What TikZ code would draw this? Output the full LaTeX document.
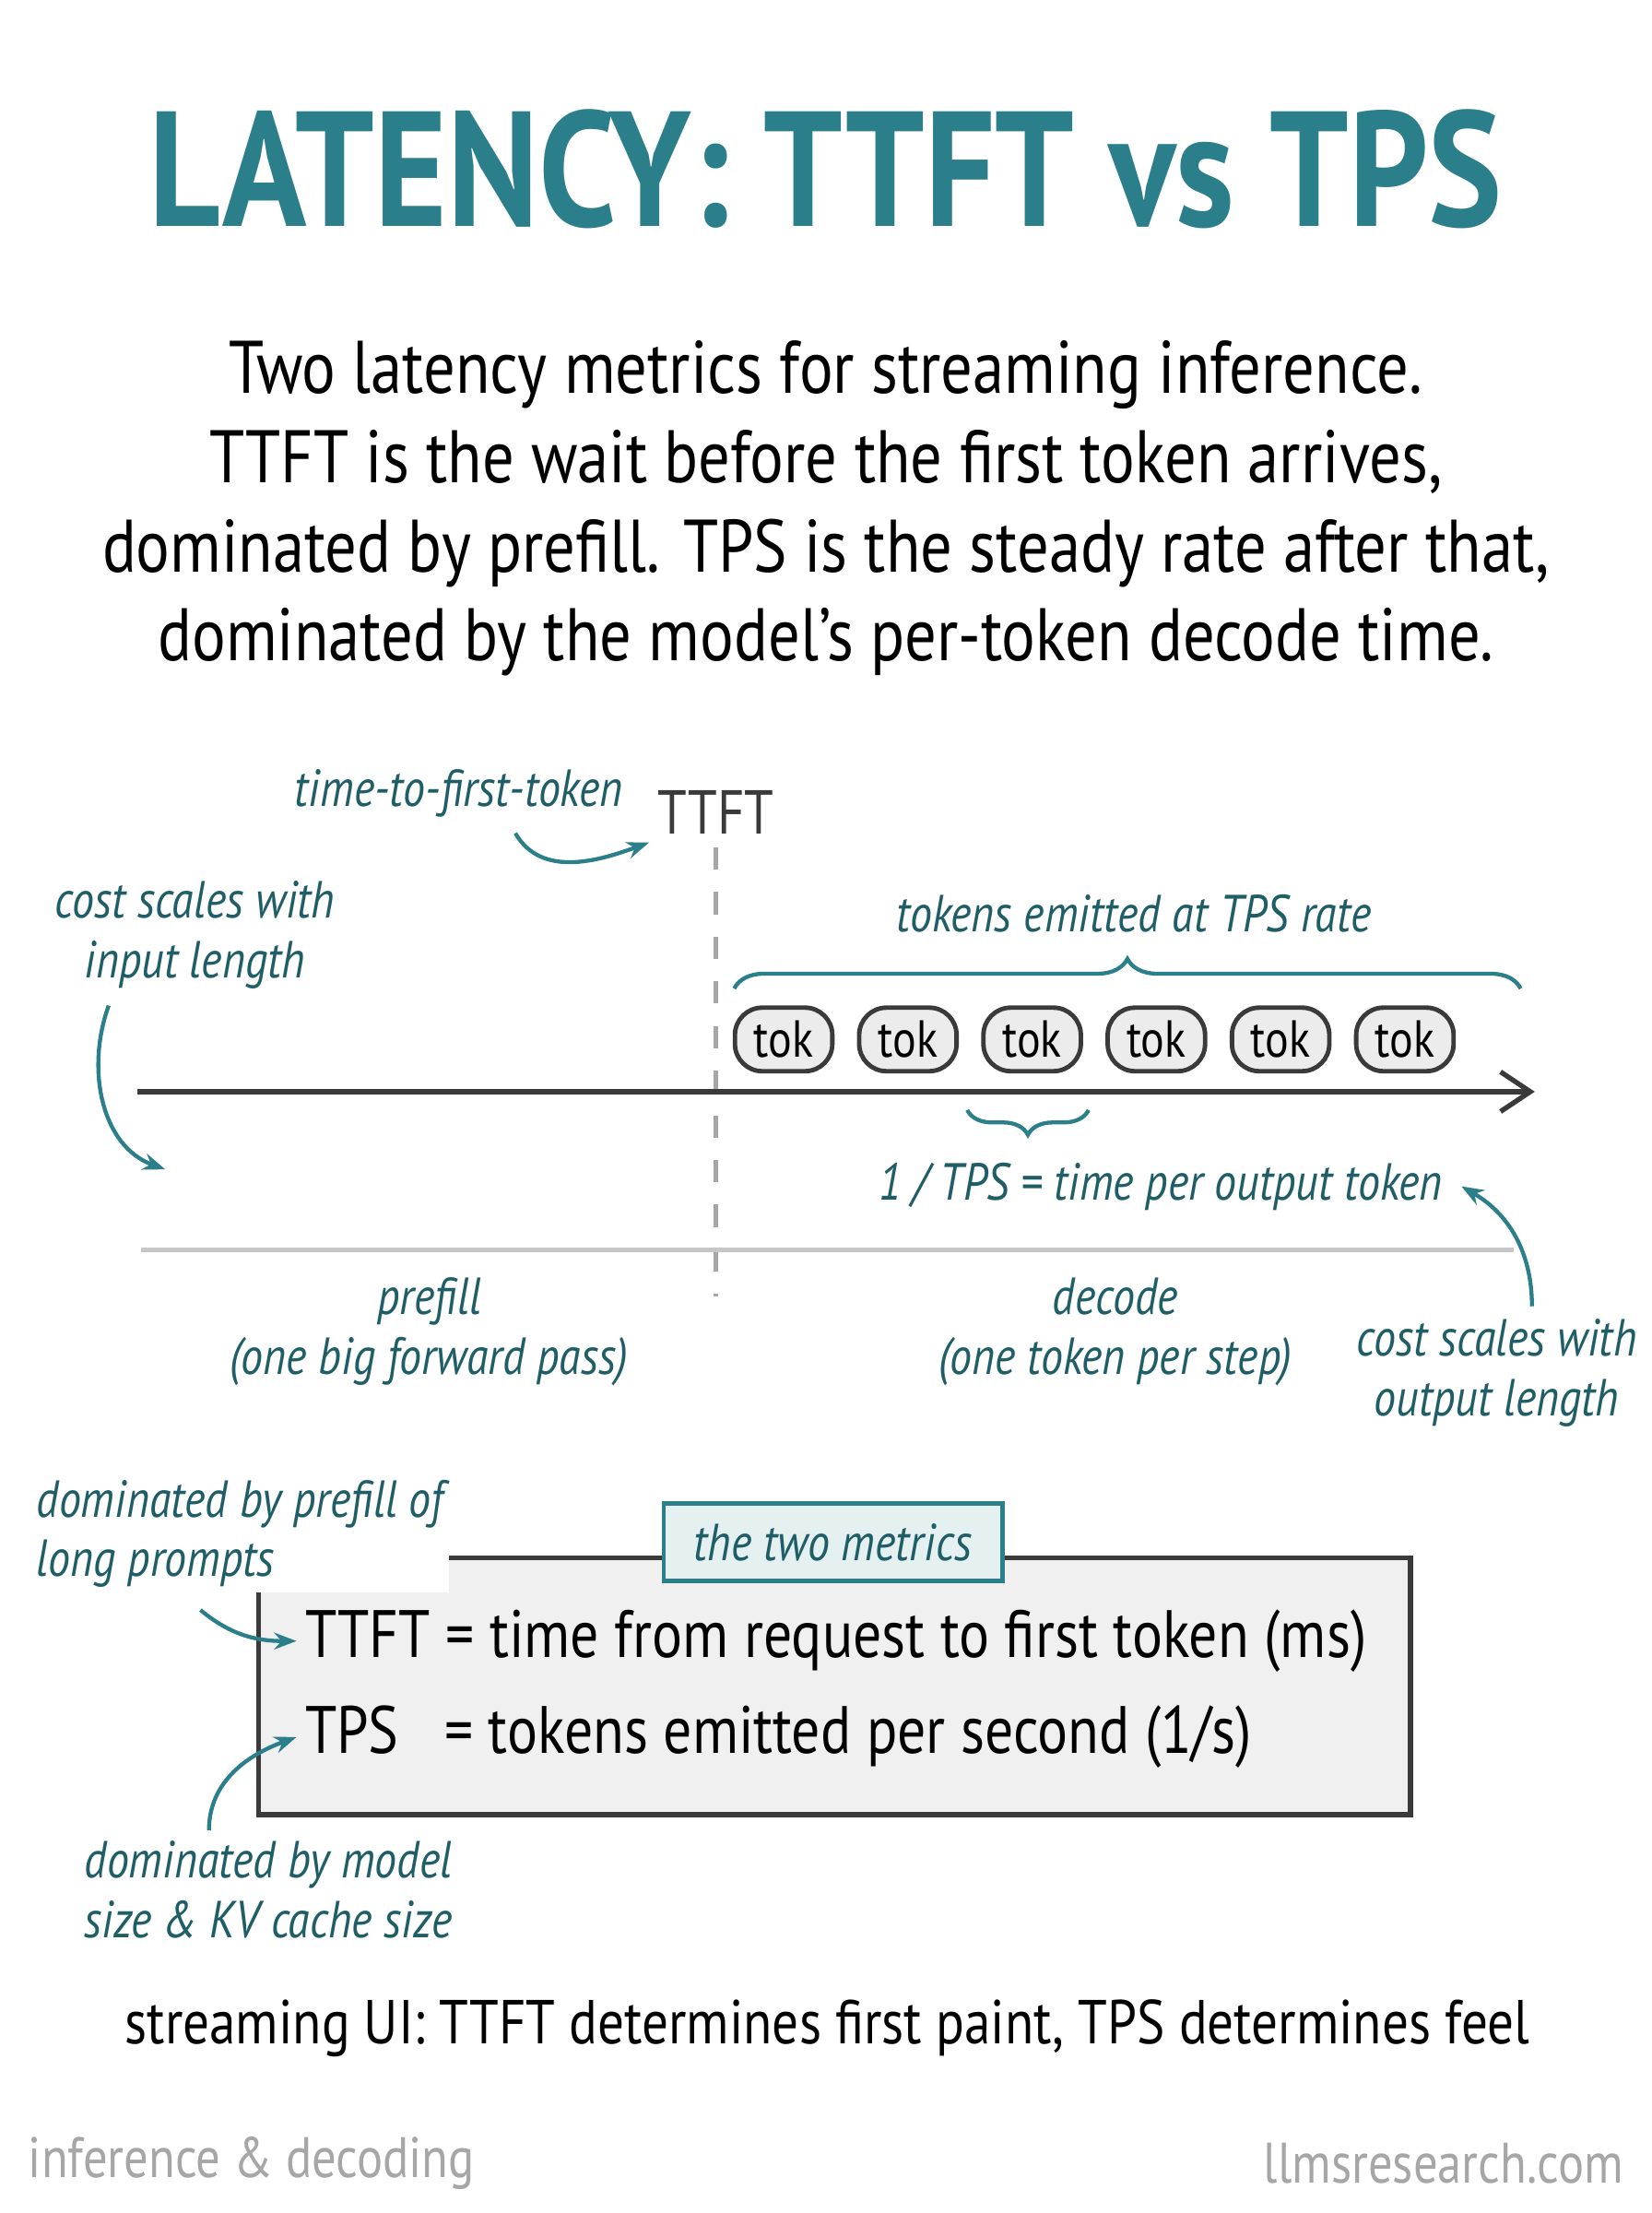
\documentclass[tikz,border=0pt]{standalone}
\usepackage{fontspec}
\setmainfont{PT Sans}[FakeStretch=0.85]
\usetikzlibrary{positioning,decorations.pathreplacing,arrows.meta}
\definecolor{teal}{HTML}{2A7F8A}
\definecolor{darkteal}{HTML}{1F5E66}
\definecolor{ink}{HTML}{3A3A3A}
\tikzset{
  note/.style={text=darkteal, font=\itshape\fontsize{21}{24}\selectfont, align=center},
  curv/.style={teal, line width=1.6pt, -{Stealth[length=9pt]}},
  tok/.style={draw=ink, fill=gray!15, line width=1.8pt, rounded corners=11pt, minimum width=1.38cm, minimum height=0.9cm, font=\fontsize{21}{22}\selectfont},
  brace/.style={teal, line width=1.6pt, decorate}
}
\begin{document}
\begin{tikzpicture}[x=0.02cm, y=-0.02cm]
    \useasboundingbox (0,0) rectangle (1170,1567);

    % Title and intro
    \node[text=teal, font=\bfseries\fontsize{66}{70}\selectfont] (title) at (585,120) {LATENCY: TTFT vs TPS};
    \node[font=\fontsize{30}{36}\selectfont, align=center] (intro) at (585,360)
        {Two latency metrics for streaming inference.\\
         TTFT is the wait before the first token arrives,\\
         dominated by prefill. TPS is the steady rate after that,\\
         dominated by the model’s per-token decode time.};

    % Boundary between prefill and decode
    \node[note] (ttftlong) at (325,562) {time-to-first-token};
    \node[text=ink, font=\fontsize{25}{26}\selectfont] (ttft) at (507,575) {TTFT};
    \coordinate (cuttop) at (507,600);
    \coordinate (cutbot) at (507,918);
    \draw[gray!70, line width=1.6pt, dash pattern=on 9pt off 9pt] (cuttop) -- (cutbot);
    \draw[curv] (365,590) to[out=-60, in=200] (ttft.south west);

    % Time axis and tokens
    \coordinate (tstart) at (97,773);
    \coordinate (tend) at (1087,773);
    \draw[ink, line width=2pt, -{Straight Barb[length=12pt, width=16pt]}] (tstart) -- (tend);
    \foreach \i/\x in {1/555,2/643,3/731,4/819,5/907,6/995}
        \node[tok] (tok\i) at (\x,736) {tok};

    \node[note] (rate) at (803,647) {tokens emitted at TPS rate};
    \draw[brace, decoration={brace, amplitude=12pt}] (520,700) -- (1077,700);
    \draw[brace, decoration={brace, amplitude=10pt, mirror}] (685,786) -- (771,786);
    \node[note] (pertok) at (822,840) {1 / TPS = time per output token};

    % Phase floor
    \coordinate (fstart) at (100,885);
    \coordinate (fend) at (1072,885);
    \draw[gray!45, line width=2pt] (fstart) -- (fend);
    \node[note] (prefill) at (304,943) {prefill\\(one big forward pass)};
    \node[note] (decode) at (790,943) {decode\\(one token per step)};

    % Cost notes
    \node[note] (incost) at (138,662) {cost scales with\\input length};
    \coordinate (inend) at (117,828);
    \draw[curv] (77,712) to[out=-110, in=160] (inend);
    \node[note] (outcost) at (1060,972) {cost scales with\\output length};
    \coordinate (outstart) at (1085,925);
    \draw[curv] (outstart) to[out=90, in=-30] ([xshift=4pt]pertok.east);

    % Metrics box
    \node[draw=ink, fill=gray!12, line width=2pt, minimum width=16.32cm, minimum height=3.64cm] (box) at (591,1194) {};
    \node[draw=teal, fill=teal!12, line width=1.6pt, minimum width=4.8cm, minimum height=1.1cm, note] (boxlbl) at (590,1092) {the two metrics};
    \node[anchor=west, font=\fontsize{27}{31}\selectfont] (mttft) at (210,1162) {TTFT = time from request to first token (ms)};
    \node[anchor=west, font=\fontsize{27}{31}\selectfont] (mtps) at (210,1230) {TPS\ \ \ = tokens emitted per second (1/s)};

    \node[note, align=left, anchor=west, fill=white, inner sep=2pt] (prenote) at (22,1086) {dominated by prefill of\\long prompts};
    \draw[curv] (142,1140) to[out=-40, in=180] (mttft.west);
    \node[note] (modnote) at (190,1338) {dominated by model\\size \& KV cache size};
    \draw[curv] (148,1296) to[out=90, in=200] (mtps.west);

    % Takeaway and footer
    \node[font=\fontsize{25}{28}\selectfont] (takeaway) at (586,1436) {streaming UI: TTFT determines first paint, TPS determines feel};
    \node[anchor=west, text=gray!70, font=\fontsize{23}{28}\selectfont] (topic) at (14,1532) {inference \& decoding};
    \node[anchor=east, text=gray!70, font=\fontsize{23}{28}\selectfont] (site) at (1156,1532) {llmsresearch.com};
\end{tikzpicture}
\end{document}
